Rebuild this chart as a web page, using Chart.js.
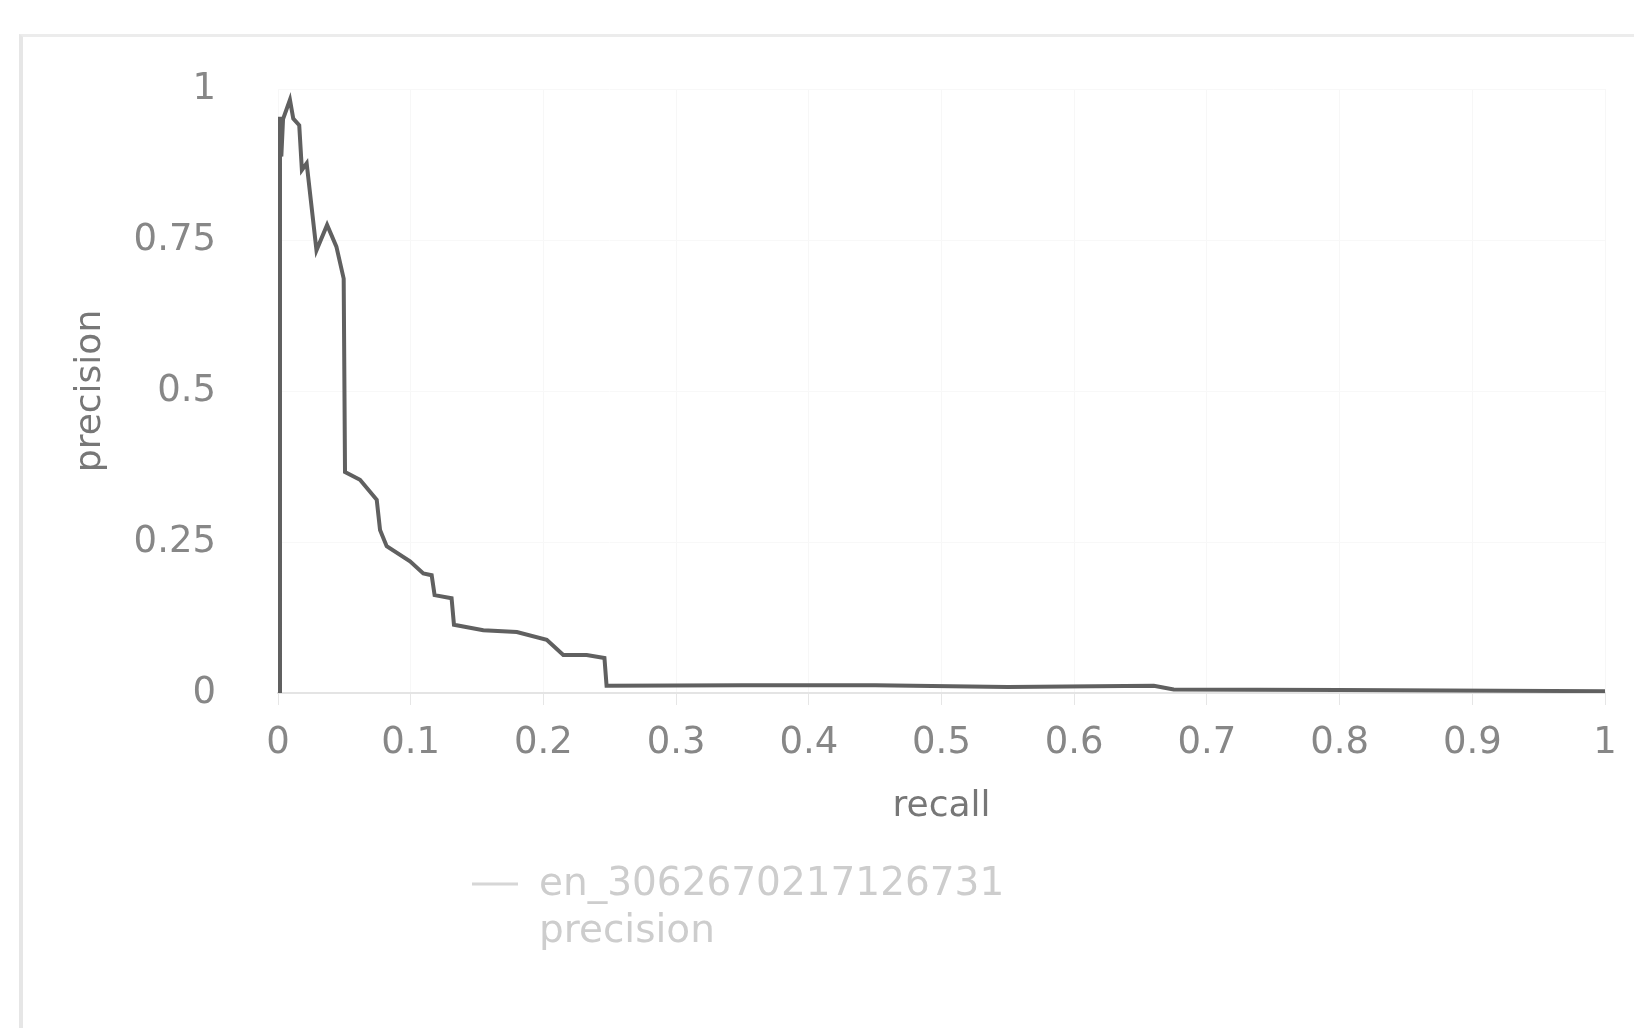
<!DOCTYPE html>
<html lang="en">
  <head>
    <meta charset="UTF-8" />
    <title>Precision / recall</title>
    <script src="https://cdn.jsdelivr.net/npm/chart.js@4.4.1/dist/chart.umd.min.js"></script>
    <style>
      body { margin: 0; background: #fff; }
      #frame {
        position: absolute; left: 19px; top: 34px; width: 1700px; height: 1100px;
        border-left: 4px solid #e6e6e6; border-top: 3px solid #ececec;
      }
      #prChart { position: absolute; left: 0; top: 0; }
    </style>
  </head>
  <body>
  <div id="frame"></div>
  <canvas id="prChart" width="1634" height="1028"></canvas>

  <script>
    // Series name (shown in legend on two lines)
    const seriesName = ['en_3062670217126731', 'precision'];

    // recall (x) and precision (y)
    const recall = [0.0015, 0.0015, 0.0025, 0.0038, 0.009, 0.0115, 0.016, 0.018, 0.0216, 0.029,
                    0.037, 0.044, 0.0495, 0.0505, 0.0618, 0.0744, 0.0769, 0.0819, 0.0995, 0.1095,
                    0.1158, 0.118, 0.1308, 0.1326, 0.1547, 0.180, 0.2025, 0.215, 0.2326, 0.246,
                    0.2476, 0.35, 0.45, 0.55, 0.66, 0.675, 0.8, 1.0];
    const precision = [0, 0.954, 0.888, 0.95, 0.982, 0.951, 0.94, 0.866, 0.877, 0.733,
                       0.775, 0.739, 0.686, 0.366, 0.353, 0.320, 0.270, 0.243, 0.218, 0.198,
                       0.195, 0.162, 0.157, 0.113, 0.104, 0.101, 0.088, 0.063, 0.063, 0.058,
                       0.012, 0.013, 0.013, 0.010, 0.012, 0.006, 0.005, 0.003];

    // Tick labels
    const xTicks = [0, 0.1, 0.2, 0.3, 0.4, 0.5, 0.6, 0.7, 0.8, 0.9, 1];
    const yTicks = [0, 0.25, 0.5, 0.75, 1];

    const points = recall.map((r, i) => ({ x: r, y: precision[i] }));
    const fontFamily = '"DejaVu Sans", sans-serif';

    // draws the two-line legend under the x axis
    const twoLineLegend = {
      id: 'twoLineLegend',
      afterDraw(chart) {
        const ctx = chart.ctx;
        ctx.save();
        ctx.strokeStyle = '#d6d6d6';
        ctx.lineWidth = 3;
        ctx.beginPath();
        ctx.moveTo(472, 884);
        ctx.lineTo(518, 884);
        ctx.stroke();
        ctx.fillStyle = '#cdcdcd';
        ctx.font = '39px ' + fontFamily;
        ctx.textBaseline = 'middle';
        seriesName.forEach((t, i) => ctx.fillText(t, 539, 885 + i * 47));
        ctx.restore();
      }
    };

    const ctx = document.getElementById('prChart').getContext('2d');
    const myChart = new Chart(ctx, {
      type: 'line',
      data: {
        datasets: [{
          label: seriesName.join(' '),
          data: points,
          borderColor: '#606060',
          borderWidth: 4,
          pointRadius: 0,
          fill: false,
          tension: 0
        }]
      },
      options: {
        responsive: false,
        animation: false,
        layout: { padding: { top: 89, right: 29, left: 0, bottom: 0 } },
        plugins: { legend: { display: false }, tooltip: { enabled: false } },
        scales: {
          x: {
            type: 'linear', min: 0, max: 1,
            afterBuildTicks: axis => { axis.ticks = xTicks.map(v => ({ value: v })); },
            afterFit: axis => { axis.height = 335; },
            grid: { color: '#f7f7f7', tickColor: '#e6e6e6', tickLength: 12, drawOnChartArea: true },
            border: { color: '#e4e4e4', width: 2 },
            ticks: { color: '#878787', padding: 16, maxRotation: 0, callback: v => String(v), font: { family: fontFamily, size: 37 } },
            title: { display: true, text: 'recall', color: '#777777', font: { family: fontFamily, size: 36 }, padding: { bottom: 200 } }
          },
          y: {
            min: 0, max: 1,
            afterBuildTicks: axis => { axis.ticks = yTicks.map(v => ({ value: v })); },
            afterFit: axis => { axis.width = 278; },
            grid: { color: '#f8f8f8', drawTicks: false },
            border: { display: false },
            ticks: { color: '#878787', padding: 62, callback: v => String(v), font: { family: fontFamily, size: 37 } },
            title: { display: true, text: 'precision', color: '#777777', font: { family: fontFamily, size: 36 }, padding: { top: 69 } }
          }
        }
      },
      plugins: [twoLineLegend]
    });
  </script>
  </body>
</html>
